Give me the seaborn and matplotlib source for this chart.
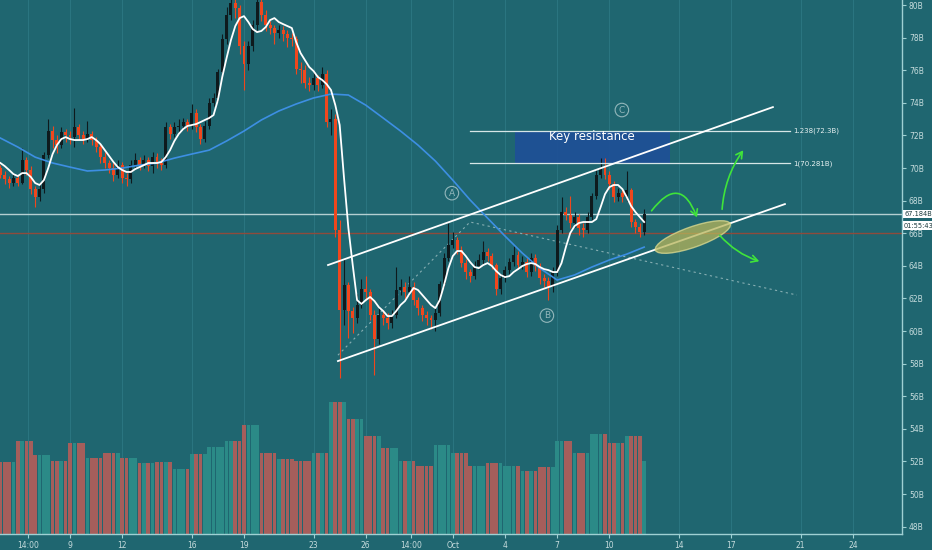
import numpy as np
import pandas as pd
import matplotlib
matplotlib.use("Agg")
import matplotlib.pyplot as plt
import seaborn as sns
from matplotlib.patches import Ellipse, Rectangle, FancyArrowPatch

# 6h candles, first bar opens Sep 5 00:00. Time axis = day of September (Oct 1 = 31)
first_day = 5.0
bar_step = 0.25
first_open = 70.0

closes = [69.6, 69.3, 69.1, 69.4, 69.1, 70.5, 69.9, 68.7, 68.2, 68.7,
          70.8, 72.3, 71.7, 71.4, 72.2, 72.0, 71.9, 72.5, 72.0, 71.8,
          72.1, 71.7, 71.3, 70.7, 70.3, 70.0, 69.6, 70.2, 69.4, 69.3,
          70.2, 70.5, 70.2, 70.5, 70.1, 70.7, 70.3, 70.2, 72.5, 72.1,
          72.5, 72.6, 72.8, 72.6, 73.4, 72.5, 71.8, 72.6, 74.0, 74.3,
          75.9, 77.9, 79.4, 80.1, 79.8, 77.5, 76.4, 77.5, 78.8, 80.2,
          79.4, 78.8, 78.6, 78.3, 78.5, 78.2, 78.0, 77.9, 76.1, 76.0,
          75.2, 75.1, 75.5, 75.1, 75.8, 72.8, 73.0, 66.2, 61.3, 62.8,
          61.2, 60.8, 61.6, 62.6, 62.4, 61.0, 59.5, 61.0, 60.8, 60.5,
          61.0, 62.5, 62.7, 62.4, 62.7, 61.9, 61.4, 61.0, 60.8, 60.7,
          61.1, 62.9, 64.5, 65.3, 65.6, 65.0, 64.2, 63.6, 63.4, 64.0,
          64.35, 64.85, 64.6, 64.05, 62.6, 63.25, 63.75, 64.25, 64.65, 64.05,
          64.25, 63.6, 64.5, 64.0, 63.25, 63.1, 62.7, 63.6, 66.2, 67.3,
          67.1, 66.6, 67.0, 66.3, 66.2, 67.0, 68.3, 69.6, 70.0, 69.6,
          69.0, 68.2, 68.5, 68.2, 68.65, 66.7, 66.4, 66.1, 67.184]

highs = [70.2, 69.8, 69.5, 69.7, 69.6, 71.2, 70.7, 70.1, 68.9, 69.0,
         71.0, 73.0, 72.6, 72.0, 72.5, 72.4, 72.3, 73.7, 72.7, 72.3,
         72.9, 72.3, 71.9, 71.5, 71.0, 70.5, 70.3, 70.5, 70.4, 69.7,
         70.5, 70.9, 70.7, 70.8, 70.7, 71.0, 70.9, 70.6, 72.8, 72.7,
         72.8, 73.0, 73.1, 73.0, 73.9, 73.6, 72.7, 72.9, 74.3, 74.6,
         76.1, 78.2, 79.9, 80.6, 80.6, 80.0, 77.8, 77.8, 79.1, 80.6,
         80.6, 79.7, 79.0, 78.8, 78.8, 78.7, 78.5, 78.3, 78.1, 76.5,
         76.3, 75.6, 75.9, 75.7, 76.2, 76.0, 73.6, 73.3, 66.8, 64.4,
         63.0, 61.5, 62.3, 63.2, 63.4, 62.6, 61.3, 61.4, 61.3, 61.1,
         61.3, 63.9, 63.2, 63.0, 63.4, 63.0, 62.1, 61.6, 61.2, 61.0,
         61.4, 63.1, 64.8, 66.6, 66.1, 65.8, 65.2, 64.4, 63.8, 64.3,
         64.7, 65.5, 65.1, 64.8, 64.2, 63.5, 64.0, 64.5, 65.2, 64.9,
         64.6, 64.5, 64.8, 64.7, 64.2, 63.5, 63.3, 63.9, 66.5, 68.2,
         67.6, 68.3, 67.3, 67.2, 66.6, 67.3, 68.5, 69.9, 70.6, 70.6,
         69.8, 69.2, 68.8, 68.7, 69.8, 68.8, 66.9, 66.6, 67.5]

lows = [69.4, 69.0, 68.8, 68.9, 68.9, 69.0, 69.6, 68.4, 67.6, 68.0,
        68.5, 70.6, 71.2, 70.9, 71.2, 71.6, 71.5, 71.3, 71.7, 71.5,
        71.6, 71.4, 71.0, 70.3, 70.0, 69.7, 69.2, 69.4, 69.1, 68.9,
        69.1, 70.0, 69.9, 70.0, 69.8, 69.7, 70.0, 69.9, 70.0, 71.8,
        71.9, 72.2, 72.4, 72.3, 72.4, 72.2, 71.5, 71.6, 72.4, 73.8,
        74.1, 75.7, 77.6, 79.1, 79.2, 77.0, 74.8, 76.0, 77.2, 78.5,
        79.0, 78.4, 78.2, 77.6, 78.0, 77.8, 77.4, 77.5, 75.8, 75.2,
        74.9, 74.7, 74.8, 74.7, 74.9, 72.5, 72.0, 65.8, 57.1, 60.4,
        59.6, 59.9, 60.5, 61.4, 61.9, 60.7, 57.3, 59.2, 60.4, 60.1,
        60.2, 60.8, 62.2, 62.0, 62.2, 61.6, 61.0, 60.6, 60.4, 60.1,
        60.0, 60.9, 62.7, 64.3, 65.1, 64.7, 63.9, 63.2, 63.0, 63.2,
        63.8, 64.1, 64.3, 63.8, 62.2, 62.3, 63.0, 63.5, 64.0, 63.8,
        63.8, 63.3, 63.4, 63.7, 62.9, 62.7, 61.9, 62.4, 63.4, 66.0,
        66.8, 66.3, 66.4, 65.9, 65.8, 66.0, 66.8, 68.1, 69.4, 69.3,
        68.7, 67.9, 68.0, 67.9, 68.0, 66.4, 66.0, 65.8, 65.9]

# white fast MA, one value per candle
ma_fast = [70.31, 70.12, 69.88, 69.63, 69.51, 69.69, 69.69, 69.45, 69.08, 68.96,
           69.26, 70.00, 70.86, 71.41, 71.78, 71.90, 71.78, 71.72, 71.72, 71.72,
           71.78, 71.90, 71.72, 71.47, 71.10, 70.74, 70.37, 70.06, 69.88, 69.76,
           69.76, 69.94, 70.06, 70.18, 70.31, 70.31, 70.31, 70.37, 70.67, 71.10,
           71.66, 72.09, 72.39, 72.58, 72.64, 72.70, 72.82, 72.95, 73.07, 73.25,
           74.17, 75.58, 76.75, 77.85, 78.71, 79.20, 79.32, 78.96, 78.53, 78.34,
           78.41, 78.65, 79.08, 79.20, 78.96, 78.83, 78.71, 78.59, 77.73, 77.06,
           76.63, 76.20, 75.95, 75.58, 75.40, 75.15, 74.79, 73.86, 72.64, 69.39,
           66.32, 64.05, 61.90, 61.66, 61.90, 62.09, 61.84, 61.47, 61.23, 60.92,
           60.92, 61.23, 61.60, 61.84, 62.27, 62.64, 62.52, 62.21, 61.90, 61.60,
           61.41, 61.90, 62.82, 63.86, 64.60, 64.91, 64.91, 64.60, 64.23, 63.93,
           63.86, 64.05, 64.17, 63.99, 63.68, 63.44, 63.31, 63.37, 63.62, 63.80,
           63.99, 64.11, 64.17, 64.11, 63.93, 63.80, 63.74, 63.62, 63.62, 64.17,
           65.15, 66.01, 66.44, 66.63, 66.69, 66.69, 66.69, 66.87, 67.61, 68.40,
           68.83, 68.96, 68.96, 68.71, 68.22, 67.67, 67.30, 66.99, 66.69]

# blue slow MA, read once a day (every 4th candle)
ma_slow = [71.84, 71.29, 70.67, 70.31, 70.06, 69.82, 69.88, 70.00, 70.18, 70.31,
           70.61, 70.86, 71.10, 71.66, 72.27, 72.95, 73.50, 73.93, 74.30, 74.54,
           74.48, 73.86, 73.07, 72.27, 71.41, 70.43, 69.26, 68.04, 66.93, 65.83,
           64.78, 63.86, 63.13, 63.44, 63.93, 64.36, 64.72, 65.15]

# daily volume (arbitrary units), Sep 5 .. Oct 12
daily_volume = [7.2, 9.3, 7.9, 7.3, 9.1, 7.6, 8.1, 7.6, 7.1, 7.2,
                6.5, 8.0, 8.7, 9.3, 10.9, 8.1, 7.5, 7.3, 8.1, 13.2,
                11.5, 9.8, 8.6, 7.3, 6.8, 8.9, 8.1, 6.8, 7.1, 6.8,
                6.3, 6.7, 9.3, 8.1, 10.0, 9.1, 9.8, 7.3]

tick_days = [6 + 14 / 24, 9, 12, 16, 19, 23, 26, 28 + 14 / 24, 31, 34, 37, 40, 44, 47, 51, 54]
tick_labels = ['14:00', '9', '12', '16', '19', '23', '26', '14:00', 'Oct', '4', '7', '10',
               '14', '17', '21', '24']
price_ticks = list(range(48, 81, 2))

last_price = 67.184
countdown = '01:55:43'
red_level = 66.0
fib_levels = [72.3, 70.281]
fib_labels = ['1.238(72.3B)', '1(70.281B)']

# drawings (day, price)
upper_channel = [(23.83, 64.05), (49.40, 73.74)]
lower_channel = [(24.40, 58.16), (50.09, 67.79)]
abc_path = [(24.40, 58.52), (31.99, 66.69), (50.78, 62.21)]
wave_labels = {'A': (30.95, 68.46), 'B': (36.41, 60.95), 'C': (40.72, 73.56)}

# ---- frame
n = len(closes)
df = pd.DataFrame({'t': first_day + bar_step * np.arange(n),
                   'open': [first_open] + closes[:-1], 'close': closes,
                   'high': highs, 'low': lows})
df['up'] = df['close'] >= df['open']
df['volume'] = [daily_volume[i // 4] for i in range(n)]
slow_t = df['t'].values[::4]

bg = '#1f6670'
up_col, down_col = '#0e1a1d', '#f0471d'
txt_col = '#c6dcdd'
axis_col = '#9fd0d3'

fig = plt.figure(figsize=(9.32, 5.5), dpi=100, facecolor=bg)
pos = [0, 16 / 550, 902 / 932, 534 / 550]
ax_vol = fig.add_axes(pos)
ax = fig.add_axes(pos, sharex=ax_vol)
ax_vol.set_facecolor(bg)
ax.patch.set_alpha(0)

ax.set_xlim(4.977, 56.82)
ax.set_ylim(47.55, 80.31)

# grid + volume
for d in tick_days:
    ax_vol.axvline(d, color='#2a7580', lw=0.8, zorder=0)
vol_cols = np.where(df['up'], '#2b8a87', '#a55e5b')
ax_vol.bar(df['t'], df['volume'], width=0.21, color=vol_cols, linewidth=0, zorder=1)
ax_vol.set_ylim(0, 53.4)
ax_vol.set_yticks([])
ax_vol.tick_params(axis='x', length=0, labelbottom=False)
for s in ax_vol.spines.values():
    s.set_visible(False)

# candles
cols = np.where(df['up'], up_col, down_col)
ax.vlines(df['t'], df['low'], df['high'], colors=cols, lw=0.8, zorder=3)
body_lo = df[['open', 'close']].min(axis=1)
body_h = (df['close'] - df['open']).abs().clip(lower=0.06)
ax.bar(df['t'], body_h, bottom=body_lo, width=0.17, color=cols, linewidth=0, zorder=4)

# moving averages
sns.lineplot(x=df['t'], y=ma_fast, ax=ax, color='white', lw=1.3, zorder=6)
sns.lineplot(x=slow_t, y=ma_slow, ax=ax, color='#3d8fe3', lw=1.2, zorder=5)
ax.set_xlabel('')
ax.set_ylabel('')

# horizontal levels
ax.axhline(last_price, color='#b4cfd1', lw=1.0, zorder=2)
ax.axhline(red_level, color='#8e4b3c', lw=1.0, zorder=2)

# key resistance box + fib lines
ax.add_patch(Rectangle((34.57, fib_levels[1]), 43.48 - 34.57, 72.25 - fib_levels[1],
                       facecolor='#1e4f97', alpha=0.9, lw=0, zorder=2))
ax.text(39.0, 71.95, 'Key resistance', color='white', fontsize=8.5, ha='center', va='center',
        zorder=7)
for lvl, lab in zip(fib_levels, fib_labels):
    ax.plot([31.99, 50.4], [lvl, lvl], color='#d7e6e7', lw=0.9, zorder=3)
    ax.text(50.55, lvl, lab, color='#e6f0f0', fontsize=5, va='center', ha='left')

# channel
for seg in (upper_channel, lower_channel):
    ax.plot(*zip(*seg), color='white', lw=1.3, zorder=6)

# abc projection
ax.plot(*zip(*abc_path), color='#86aeb2', lw=0.8, ls=(0, (2, 3)), zorder=2)
for lab, (x, y) in wave_labels.items():
    ax.text(x, y, lab, color='#93b7bb', fontsize=6.5, ha='center', va='center',
            bbox=dict(boxstyle='circle,pad=0.25', fc='none', ec='#93b7bb', lw=0.8))

# ellipse + scenario arrows
ax.add_patch(Ellipse((44.8, 65.77), width=4.6, height=1.25, angle=20.7,
                     facecolor='#b7b55a', edgecolor='#dedc92', alpha=0.75, lw=1, zorder=6))
green = '#3fe43a'
arrows = [((42.33, 67.24), (45.09, 66.81), -0.95),
          ((46.47, 67.3), (47.79, 71.23), -0.15),
          ((46.24, 66.0), (48.77, 64.23), 0.15)]
for a, b, rad in arrows:
    ax.add_patch(FancyArrowPatch(a, b, connectionstyle=f'arc3,rad={rad}',
                                 arrowstyle='->,head_length=0.45,head_width=0.25',
                                 mutation_scale=10, color=green, lw=1.2, zorder=7))

# axes styling
ax.yaxis.tick_right()
ax.set_yticks(price_ticks)
ax.set_yticklabels([f'{v}B' for v in price_ticks])
ax.set_xticks(tick_days)
ax.set_xticklabels(tick_labels)
ax.tick_params(axis='both', colors=axis_col, labelcolor=txt_col, labelsize=5.5,
               length=3, width=0.8, pad=2)
for side in ('top', 'left'):
    ax.spines[side].set_visible(False)
for side in ('right', 'bottom'):
    ax.spines[side].set_color(axis_col)
    ax.spines[side].set_linewidth(1.0)

# last price tag + countdown
for label, dy in ((f'{last_price:.3f}B', 0), (countdown, -8.5)):
    ax.annotate(label, xy=(1, last_price), xycoords=('axes fraction', 'data'),
                xytext=(1.5, dy), textcoords='offset points', ha='left', va='center',
                fontsize=4.8, color='#1b3a3d', annotation_clip=False, zorder=10,
                bbox=dict(boxstyle='square,pad=0.2', fc='white', ec='none'))

fig.savefig('out.png', dpi=100, facecolor=bg)
